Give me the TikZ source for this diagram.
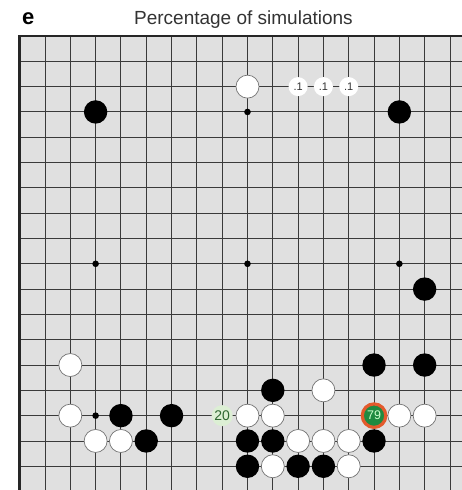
\documentclass[tikz,border=0pt]{standalone}
\usepackage{fontspec}
\setmainfont{Liberation Sans}
\usetikzlibrary{positioning}

\definecolor{boardgrey}{HTML}{E0E0E0}
\definecolor{gridgrey}{HTML}{3A3A3A}
\definecolor{titlegrey}{HTML}{333333}
\definecolor{movegreen}{HTML}{1F8A40}
\definecolor{movering}{HTML}{E35A2C}
\definecolor{palegreen}{HTML}{DCEFD4}
\definecolor{textgreen}{HTML}{2E6630}

\begin{document}
\begin{tikzpicture}[x=25.31pt, y=-25.31pt,
    gridline/.style={gridgrey, line width=0.9pt},
    boardedge/.style={black!85, line width=2.4pt},
    whitestone/.style={fill=white, draw=black!55, line width=0.7pt},
    blackstone/.style={fill=black},
    pctlabel/.style={circle, fill=white, inner sep=0pt, minimum size=19pt, text=black!80, font=\fontsize{11}{11}\selectfont},
    hotlabel/.style={circle, fill=palegreen, inner sep=0pt, minimum size=21pt, text=textgreen, font=\fontsize{14}{14}\selectfont},
    topmove/.style={circle, fill=movegreen, draw=movering, line width=3.2pt, inner sep=0pt, minimum size=23.5pt, text=green!20, font=\fontsize{12.5}{12.5}\selectfont}]
    \useasboundingbox (-19.7pt,36pt) rectangle (442.3pt,-454pt);
    \clip (-19.7pt,36pt) rectangle (442.3pt,-454pt);

    % heading
    \node[anchor=base, font=\bfseries\fontsize{22}{22}\selectfont] (panel) at (0.34,-0.45) {e};
    \node[anchor=base, text=titlegrey, font=\fontsize{19}{19}\selectfont] (title) at (8.84,-0.47) {Percentage of simulations};

    % board
    \fill[boardgrey] (0,0) rectangle (18,18);
    \foreach \i in {1,...,17} {
        \draw[gridline] (\i,0) -- (\i,18);
        \draw[gridline] (0,\i) -- (18,\i);
    }
    \draw[boardedge] (0,0) rectangle (18,18);
    \foreach \c/\r in {3/3,9/3,15/3,3/9,9/9,15/9,3/15,9/15,15/15}
        \fill[black] (\c,\r) circle (3.3pt);

    % stones
    \foreach \c/\r in {3/3,15/3,16/10,14/13,16/13,10/14,4/15,6/15,5/16,9/16,10/16,14/16,9/17,11/17,12/17}
        \fill[blackstone] (\c,\r) circle (11.7pt);
    \foreach \c/\r in {9/2,2/13,12/14,2/15,9/15,10/15,15/15,16/15,3/16,4/16,11/16,12/16,13/16,10/17,13/17}
        \filldraw[whitestone] (\c,\r) circle (11.5pt);

    % simulation counts
    \node[pctlabel] (p11) at (11,2) {.1};
    \node[pctlabel] (p12) at (12,2) {.1};
    \node[pctlabel] (p13) at (13,2) {.1};
    \node[hotlabel] (p20) at (8,15) {20};
    \node[topmove] (p79) at (14,15) {79};
\end{tikzpicture}
\end{document}
